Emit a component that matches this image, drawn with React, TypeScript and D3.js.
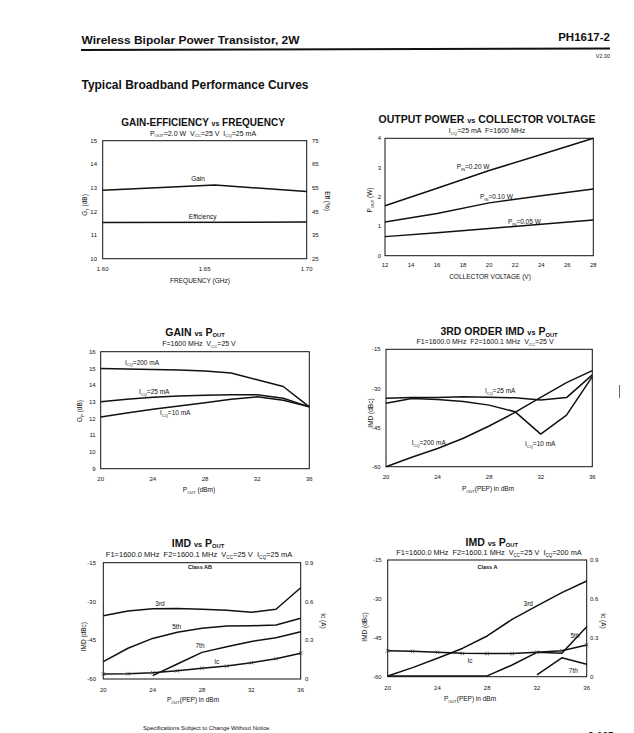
import React from "react";
import * as d3 from "d3";

const FONT = "'Liberation Sans', Arial, Helvetica, sans-serif";

// ---------- Chart 1: Gain-Efficiency vs Frequency ----------
const c1Freq = [1.6, 1.655, 1.7];
const c1Gain = [12.9, 13.12, 12.85];
const c1EffFreq = [1.6, 1.7];
const c1Eff = [40.3, 40.5];
const c1XTicks = [1.6, 1.65, 1.7];
const c1YTicks = [10, 11, 12, 13, 14, 15];
const c1YRTicks = [25, 35, 45, 55, 65, 75];

// ---------- Chart 2: Output power vs collector voltage ----------
const c2Vcc = [12, 16, 20, 24, 28];
const c2Pin020 = [1.7, 2.3, 2.9, 3.45, 4.0];
const c2Pin010 = [1.15, 1.44, 1.8, 2.04, 2.27];
const c2Pin005 = [0.65, 0.78, 0.93, 1.07, 1.22];
const c2XTicks = [12, 14, 16, 18, 20, 22, 24, 26, 28];
const c2YTicks = [0, 1, 2, 3, 4];

// ---------- shared Pout steps ----------
const poutSteps = [20, 22, 24, 26, 28, 30, 32, 34, 36];
const poutTicks = [20, 24, 28, 32, 36];

// ---------- Chart 3: Gain vs Pout ----------
const c3Gain200 = [15.0, 14.97, 14.93, 14.9, 14.85, 14.73, 14.32, 13.92, 12.7];
const c3Gain25 = [13.0, 13.15, 13.27, 13.35, 13.4, 13.42, 13.42, 13.22, 12.7];
const c3Gain10 = [12.1, 12.33, 12.55, 12.75, 12.95, 13.15, 13.3, 13.1, 12.7];
const c3YTicks = [9, 10, 11, 12, 13, 14, 15, 16];

// ---------- Chart 4: 3rd order IMD vs Pout ----------
const c4Imd25 = [-33.8, -33.5, -33.5, -33.2, -33.4, -33.6, -34.4, -33.5, -24.8];
const c4Imd10 = [-35.7, -33.9, -34.2, -35.0, -36.4, -38.9, -47.5, -40.2, -25.5];
const c4Imd200 = [-60, -56.4, -53.0, -49.1, -44.4, -39.2, -33.4, -27.8, -23.2];
const imdTicks = [-60, -45, -30, -15];
const icTicks = [0, 0.3, 0.6, 0.9];

// ---------- Chart 5: IMD vs Pout, Class AB ----------
const c5Imd3 = [-35.5, -33.7, -32.8, -32.7, -33.0, -33.4, -34.2, -33.0, -24.7];
const c5Imd5 = [-53.3, -48.1, -44.3, -41.9, -40.4, -39.5, -39.4, -39.1, -36.5];
const c5Imd7Pout = [24, 26, 28, 30, 32, 34, 36];
const c5Imd7 = [-58.7, -54.2, -49.7, -47.5, -45.5, -44.0, -41.7];
const c5Ic = [0.039, 0.041, 0.049, 0.064, 0.083, 0.1, 0.126, 0.157, 0.2];

// ---------- Chart 6: IMD vs Pout, Class A ----------
const c6Imd3 = [-59.7, -56.5, -52.9, -49.1, -44.3, -37.9, -32.7, -27.6, -23.1];
const c6Imd5 = [-59.7, -59.7, -59.7, -59.7, -59.7, -55.5, -50.6, -51.0, -40.7];
const c6Imd7Pout = [32, 34, 36];
const c6Imd7 = [-59.3, -52.7, -55.2];
const c6Ic = [0.2, 0.196, 0.188, 0.18, 0.178, 0.178, 0.188, 0.2, 0.245];

// ---------- rich text helper: _{sub}  ~{small} ----------
type Tok = { k: "n" | "sub" | "sm"; s: string };
function parseRich(s: string): Tok[] {
  const out: Tok[] = [];
  const re = /([_~])\{([^}]*)\}/g;
  let last = 0;
  let m: RegExpExecArray | null;
  while ((m = re.exec(s))) {
    if (m.index > last) out.push({ k: "n", s: s.slice(last, m.index) });
    out.push({ k: m[1] === "_" ? "sub" : "sm", s: m[2] });
    last = re.lastIndex;
  }
  if (last < s.length) out.push({ k: "n", s: s.slice(last) });
  return out;
}

function Rich(props: {
  x: number;
  y: number;
  text: string;
  fs: number;
  anchor?: string;
  weight?: string;
  transform?: string;
  subShift?: number;
  subSize?: number;
}) {
  const {
    x,
    y,
    text,
    fs,
    anchor = "start",
    weight = "normal",
    transform,
    subShift = 0.3,
    subSize = 0.62,
  } = props;
  const toks = parseRich(text);
  let off = 0;
  return (
    <text
      x={x}
      y={y}
      fontSize={fs}
      textAnchor={anchor}
      fontWeight={weight}
      transform={transform}
      fill="#111"
      style={{ whiteSpace: "pre" }}
    >
      {toks.map((t, i) => {
        const target = t.k === "sub" ? fs * subShift : 0;
        const dy = target - off;
        off = target;
        const size = t.k === "sub" ? fs * subSize : t.k === "sm" ? fs * 0.7 : fs;
        return (
          <tspan key={i} dy={dy !== 0 ? dy : undefined} fontSize={size}>
            {t.s}
          </tspan>
        );
      })}
    </text>
  );
}

type Series = { xs: number[]; ys: number[]; right?: boolean; markers?: boolean };
type Lbl = { text: string; x: number; y: number; anchor?: string; fs?: number; weight?: string };

type PanelProps = {
  box: { l: number; r: number; t: number; b: number };
  xDomain: [number, number];
  yDomain: [number, number];
  yRDomain?: [number, number];
  xTicks: number[];
  yTicks: number[];
  yRTicks?: number[];
  xFmt?: (v: number) => string;
  yFmt?: (v: number) => string;
  yRFmt?: (v: number) => string;
  xTickY: number;
  yTickX: number;
  yRTickX?: number;
  title: Lbl;
  subtitle: Lbl;
  xTitle: Lbl;
  yTitle: Lbl;
  yRTitle?: Lbl;
  series: Series[];
  labels: Lbl[];
};

function Panel(p: PanelProps) {
  const { box } = p;
  const sx = d3.scaleLinear().domain(p.xDomain).range([box.l, box.r]);
  const sy = d3.scaleLinear().domain(p.yDomain).range([box.b, box.t]);
  const syR = p.yRDomain ? d3.scaleLinear().domain(p.yRDomain).range([box.b, box.t]) : sy;
  const xFmt = p.xFmt || ((v: number) => String(v));
  const yFmt = p.yFmt || ((v: number) => String(v));
  const yRFmt = p.yRFmt || ((v: number) => String(v));
  const tfs = 6;
  const lblFs = 6.5;
  return (
    <g>
      <rect
        x={box.l}
        y={box.t}
        width={box.r - box.l}
        height={box.b - box.t}
        fill="none"
        stroke="#111"
        strokeWidth={1}
      />
      {p.series.map((s, i) => {
        const yS = s.right ? syR : sy;
        const line = d3
          .line<number>()
          .x((_, j) => sx(s.xs[j]))
          .y((d) => yS(d));
        return (
          <g key={i}>
            <path
              d={line(s.ys) || ""}
              fill="none"
              stroke="#111"
              strokeWidth={1.5}
              strokeLinejoin="round"
            />
            {s.markers &&
              s.ys.map((v, j) => {
                const cx = sx(s.xs[j]);
                const cy = yS(v);
                const m = 1.8;
                return (
                  <path
                    key={j}
                    d={`M${cx - m},${cy - m}L${cx + m},${cy + m}M${cx - m},${cy + m}L${cx + m},${cy - m}`}
                    stroke="#333"
                    strokeWidth={0.7}
                  />
                );
              })}
          </g>
        );
      })}
      {p.xTicks.map((v) => (
        <text key={"x" + v} x={sx(v)} y={p.xTickY} fontSize={tfs} textAnchor="middle" fill="#111">
          {xFmt(v)}
        </text>
      ))}
      {p.yTicks.map((v) => (
        <text key={"y" + v} x={p.yTickX} y={sy(v) + 2.1} fontSize={tfs} textAnchor="end" fill="#111">
          {yFmt(v)}
        </text>
      ))}
      {p.yRTicks &&
        p.yRTicks.map((v) => (
          <text key={"yr" + v} x={p.yRTickX} y={syR(v) + 2.1} fontSize={tfs} textAnchor="start" fill="#111">
            {yRFmt(v)}
          </text>
        ))}
      <Rich
        {...p.title}
        fs={p.title.fs || 10}
        anchor="middle"
        weight="bold"
        subShift={0.16}
        subSize={0.55}
      />
      <Rich {...p.subtitle} fs={p.subtitle.fs || 7} anchor="middle" subShift={0.26} />
      <Rich {...p.xTitle} fs={p.xTitle.fs || 6.5} anchor="middle" />
      <Rich
        text={p.yTitle.text}
        x={0}
        y={0}
        fs={6.5}
        anchor="middle"
        transform={`translate(${p.yTitle.x + 2.3},${p.yTitle.y}) rotate(-90)`}
      />
      {p.yRTitle && (
        <Rich
          text={p.yRTitle.text}
          x={0}
          y={0}
          fs={6.5}
          anchor="middle"
          transform={`translate(${p.yRTitle.x - 2.3},${p.yRTitle.y}) rotate(90)`}
        />
      )}
      {p.labels.map((l, i) => (
        <Rich
          key={i}
          text={l.text}
          x={l.x}
          y={l.y}
          fs={l.fs || lblFs}
          anchor={l.anchor || "start"}
          weight={l.weight || "normal"}
        />
      ))}
    </g>
  );
}

export default function App() {
  return (
    <svg
      width={634}
      height={733}
      style={{ position: "absolute", left: 0, top: 0, display: "block" }}
      fontFamily={FONT}
    >
      <rect x={0} y={0} width={634} height={733} fill="#fff" />

      {/* page header */}
      <text x={81.5} y={44.3} fontSize={11.5} fontWeight="bold" fill="#111" textLength={218} lengthAdjust="spacingAndGlyphs">
        Wireless Bipolar Power Transistor, 2W
      </text>
      <text x={610} y={40.7} fontSize={11.5} fontWeight="bold" fill="#111" textAnchor="end">
        PH1617-2
      </text>
      <line x1={81} y1={50} x2={610} y2={48.5} stroke="#111" strokeWidth={2} />
      <text x={610} y={58.3} fontSize={5.5} fill="#222" textAnchor="end">
        V2.00
      </text>
      <text x={81.5} y={89} fontSize={12} fontWeight="bold" fill="#111" textLength={227} lengthAdjust="spacingAndGlyphs">
        Typical Broadband Performance Curves
      </text>

      {/* Chart 1 */}
      <Panel
        box={{ l: 102.7, r: 306.7, t: 140.7, b: 258.7 }}
        xDomain={[1.6, 1.7]}
        yDomain={[10, 15]}
        yRDomain={[25, 75]}
        xTicks={c1XTicks}
        yTicks={c1YTicks}
        yRTicks={c1YRTicks}
        xFmt={(v) => v.toFixed(2)}
        xTickY={271}
        yTickX={97}
        yRTickX={312}
        title={{ text: "GAIN-EFFICIENCY ~{vs} FREQUENCY", x: 203, y: 125.5 }}
        subtitle={{ text: "P_{OUT}=2.0 W  V_{CC}=25 V  I_{CQ}=25 mA", x: 203, y: 135.5 }}
        xTitle={{ text: "FREQUENCY (GHz)", x: 200, y: 283 }}
        yTitle={{ text: "G_{T} (dB)", x: 85, y: 205 }}
        yRTitle={{ text: "Eff (%)", x: 327, y: 201 }}
        series={[
          { xs: c1Freq, ys: c1Gain },
          { xs: c1EffFreq, ys: c1Eff, right: true },
        ]}
        labels={[
          { text: "Gain", x: 198, y: 181, anchor: "middle" },
          { text: "Efficiency", x: 202.7, y: 219, anchor: "middle" },
        ]}
      />

      {/* Chart 2 */}
      <Panel
        box={{ l: 385, r: 593.3, t: 138.3, b: 255.7 }}
        xDomain={[12, 28]}
        yDomain={[0, 4]}
        xTicks={c2XTicks}
        yTicks={c2YTicks}
        xTickY={266.7}
        yTickX={381}
        title={{ text: "OUTPUT POWER ~{vs} COLLECTOR VOLTAGE", x: 487, y: 123.3, fs: 10.5 }}
        subtitle={{ text: "I_{CQ}=25 mA  F=1600 MHz", x: 487, y: 133.3 }}
        xTitle={{ text: "COLLECTOR VOLTAGE (V)", x: 490, y: 279 }}
        yTitle={{ text: "P_{OUT} (W)", x: 369.3, y: 200 }}
        series={[
          { xs: c2Vcc, ys: c2Pin020 },
          { xs: c2Vcc, ys: c2Pin010 },
          { xs: c2Vcc, ys: c2Pin005 },
        ]}
        labels={[
          { text: "P_{IN}=0.20 W", x: 456.7, y: 169.3 },
          { text: "P_{IN}=0.10 W", x: 480, y: 199.3 },
          { text: "P_{IN}=0.05 W", x: 508, y: 224 },
        ]}
      />

      {/* Chart 3 */}
      <Panel
        box={{ l: 100.7, r: 309.3, t: 351.7, b: 468.7 }}
        xDomain={[20, 36]}
        yDomain={[9, 16]}
        xTicks={poutTicks}
        yTicks={c3YTicks}
        xTickY={481.3}
        yTickX={95.7}
        title={{ text: "GAIN ~{vs} P_{OUT}", x: 195, y: 335.7, fs: 10.5 }}
        subtitle={{ text: "F=1600 MHz  V_{CC}=25 V", x: 199, y: 345.7 }}
        xTitle={{ text: "P_{OUT} (dBm)", x: 199, y: 491.7 }}
        yTitle={{ text: "G_{P} (dB)", x: 80, y: 411 }}
        series={[
          { xs: poutSteps, ys: c3Gain200 },
          { xs: poutSteps, ys: c3Gain25 },
          { xs: poutSteps, ys: c3Gain10 },
        ]}
        labels={[
          { text: "I_{CQ}=200 mA", x: 125, y: 364.5 },
          { text: "I_{CQ}=25 mA", x: 139, y: 394 },
          { text: "I_{CQ}=10 mA", x: 160, y: 415.3 },
        ]}
      />

      {/* Chart 4 */}
      <Panel
        box={{ l: 386, r: 592.3, t: 349.3, b: 466.7 }}
        xDomain={[20, 36]}
        yDomain={[-60, -15]}
        xTicks={poutTicks}
        yTicks={imdTicks}
        xTickY={479.3}
        yTickX={380.7}
        title={{ text: "3RD ORDER IMD ~{vs} P_{OUT}", x: 499, y: 335.2, fs: 10.5 }}
        subtitle={{ text: "F1=1600.0 MHz  F2=1600.1 MHz  V_{CC}=25 V", x: 485, y: 344.3 }}
        xTitle={{ text: "P_{OUT}(PEP) in dBm", x: 488, y: 490.7 }}
        yTitle={{ text: "IMD (dBc)", x: 370.7, y: 413 }}
        series={[
          { xs: poutSteps, ys: c4Imd25 },
          { xs: poutSteps, ys: c4Imd10 },
          { xs: poutSteps, ys: c4Imd200 },
        ]}
        labels={[
          { text: "I_{CQ}=25 mA", x: 485, y: 393 },
          { text: "I_{CQ}=200 mA", x: 411.7, y: 444.6 },
          { text: "I_{CQ}=10 mA", x: 525, y: 445.6 },
        ]}
      />

      {/* Chart 5 */}
      <Panel
        box={{ l: 103.3, r: 300.7, t: 562.7, b: 679 }}
        xDomain={[20, 36]}
        yDomain={[-60, -15]}
        yRDomain={[0, 0.9]}
        xTicks={poutTicks}
        yTicks={imdTicks}
        yRTicks={icTicks}
        yRFmt={(v) => (v === 0 ? "0" : v.toFixed(1))}
        xTickY={691.7}
        yTickX={96}
        yRTickX={305}
        title={{ text: "IMD ~{vs} P_{OUT}", x: 198, y: 546.8, fs: 10.5 }}
        subtitle={{ text: "F1=1600.0 MHz  F2=1600.1 MHz  V_{CC}=25 V  I_{CQ}=25 mA", x: 199, y: 556.7, fs: 7.5 }}
        xTitle={{ text: "P_{OUT}(PEP) in dBm", x: 193, y: 702 }}
        yTitle={{ text: "IMD (dBc)", x: 84, y: 636.7 }}
        yRTitle={{ text: "Ic (A)", x: 323, y: 621 }}
        series={[
          { xs: poutSteps, ys: c5Imd3 },
          { xs: poutSteps, ys: c5Imd5 },
          { xs: c5Imd7Pout, ys: c5Imd7 },
          { xs: poutSteps, ys: c5Ic, right: true, markers: true },
        ]}
        labels={[
          { text: "Class AB", x: 200, y: 569.3, anchor: "middle", fs: 5.5, weight: "bold" },
          { text: "3rd", x: 160, y: 606.3, anchor: "middle" },
          { text: "5th", x: 176.7, y: 629, anchor: "middle" },
          { text: "7th", x: 200, y: 648.3, anchor: "middle" },
          { text: "Ic", x: 216.7, y: 664, anchor: "middle" },
        ]}
      />

      {/* Chart 6 */}
      <Panel
        box={{ l: 387.7, r: 586.7, t: 560, b: 676.7 }}
        xDomain={[20, 36]}
        yDomain={[-60, -15]}
        yRDomain={[0, 0.9]}
        xTicks={poutTicks}
        yTicks={imdTicks}
        yRTicks={icTicks}
        yRFmt={(v) => (v === 0 ? "0" : v.toFixed(1))}
        xTickY={690}
        yTickX={381.7}
        yRTickX={590}
        title={{ text: "IMD ~{vs} P_{OUT}", x: 491.7, y: 545.6, fs: 10.5 }}
        subtitle={{ text: "F1=1600.0 MHz  F2=1600.1 MHz  V_{CC}=25 V  I_{CQ}=200 mA", x: 489, y: 554.8, fs: 7.3 }}
        xTitle={{ text: "P_{OUT}(PEP) in dBm", x: 470, y: 700.7 }}
        yTitle={{ text: "IMD (dBc)", x: 364.5, y: 627 }}
        yRTitle={{ text: "Ic (A)", x: 603, y: 621 }}
        series={[
          { xs: poutSteps, ys: c6Imd3 },
          { xs: poutSteps, ys: c6Imd5 },
          { xs: c6Imd7Pout, ys: c6Imd7 },
          { xs: poutSteps, ys: c6Ic, right: true, markers: true },
        ]}
        labels={[
          { text: "Class A", x: 487.5, y: 569.3, anchor: "middle", fs: 5.5, weight: "bold" },
          { text: "3rd", x: 528.3, y: 606.3, anchor: "middle" },
          { text: "5th", x: 575, y: 638.3, anchor: "middle" },
          { text: "7th", x: 573.3, y: 673.3, anchor: "middle" },
          { text: "Ic", x: 470, y: 663, anchor: "middle" },
        ]}
      />

      {/* scan mark */}
      <line x1={619.5} y1={385} x2={619.5} y2={398} stroke="#444" strokeWidth={0.8} />

      {/* footer */}
      <text x={143} y={730} fontSize={6} fill="#111" textLength={128} lengthAdjust="spacingAndGlyphs">
        Specifications Subject to Change Without Notice.
      </text>
      <text x={588} y={740} fontSize={10} fontWeight="bold" fill="#111">
        2-195
      </text>
    </svg>
  );
}
